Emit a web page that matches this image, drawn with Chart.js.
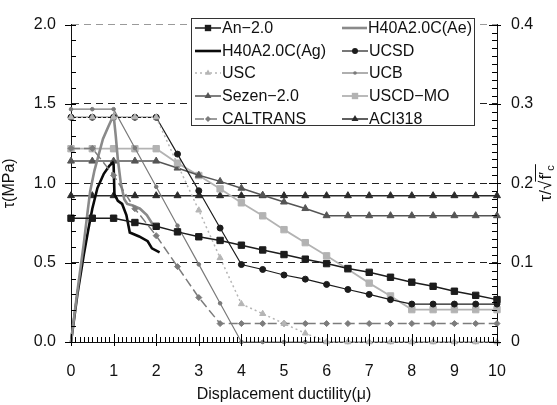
<!DOCTYPE html>
<html>
<head>
<meta charset="utf-8">
<script src="https://cdn.jsdelivr.net/npm/chart.js@4.4.1/dist/chart.umd.min.js"></script>
<style>
  html, body { margin: 0; padding: 0; background: #fff; }
  #wrap { position: relative; width: 557px; height: 405px; }
  #legend {
    position: absolute; left: 191px; top: 18px; width: 282px; height: 106px;
    border: 1px solid #333; background: #fff; color: #111;
    font: 16px "Liberation Sans", Arial, sans-serif;
  }
  #legend .grid { display: grid; grid-template-columns: 147px 133px; grid-auto-rows: 22.6px; margin-top: -2px; }
  #legend .item { display: flex; align-items: center; white-space: nowrap; }
  #legend svg { margin-left: 3px; margin-right: 1px; }
</style>
</head>
<body>
<div id="wrap">
  <canvas id="chart" width="557" height="405"></canvas>
  <div id="legend"><div class="grid"></div></div>
</div>
<script>
// displacement ductility for the model curves
const mu = [0, 0.5, 1, 1.5, 2, 2.5, 3, 3.5, 4, 4.5, 5, 5.5, 6, 6.5, 7, 7.5, 8, 8.5, 9, 9.5, 10];

const an20     = [0.78, 0.78, 0.78, 0.753, 0.729, 0.694, 0.663, 0.64, 0.61, 0.58, 0.551, 0.522, 0.494, 0.463, 0.439, 0.408, 0.377, 0.351, 0.32, 0.294, 0.267];
const ucsd     = [1.416, 1.416, 1.416, 1.416, 1.416, 1.184, 0.953, 0.718, 0.488, 0.457, 0.422, 0.396, 0.363, 0.331, 0.30, 0.267, 0.239, 0.239, 0.239, 0.239, 0.239];
const usc      = [1.416, 1.416, 1.416, 1.416, 1.416, 1.12, 0.83, 0.53, 0.24, 0.178, 0.116, 0.055, 0, 0, 0, 0, 0, 0, 0, 0, 0];
const ucb      = [1.467, 1.467, 1.467, 1.222, 0.978, 0.733, 0.489, 0.244, 0, 0, 0, 0, 0, 0, 0, 0, 0, 0, 0, 0, 0];
const sezen20  = [1.14, 1.14, 1.14, 1.14, 1.14, 1.096, 1.051, 1.012, 0.969, 0.925, 0.882, 0.841, 0.796, 0.796, 0.796, 0.796, 0.796, 0.796, 0.796, 0.796, 0.796];
const uscdMo   = [1.218, 1.218, 1.218, 1.218, 1.218, 1.127, 1.049, 0.965, 0.877, 0.795, 0.708, 0.626, 0.543, 0.459, 0.371, 0.29, 0.204, 0.204, 0.204, 0.204, 0.204];
const caltrans = [1.22, 1.22, 1.05, 0.84, 0.67, 0.475, 0.28, 0.116, 0.116, 0.116, 0.116, 0.116, 0.116, 0.116, 0.116, 0.116, 0.116, 0.116, 0.116, 0.116, 0.116];
const aci318   = [0.922, 0.922, 0.922, 0.922, 0.922, 0.922, 0.922, 0.922, 0.922, 0.922, 0.922, 0.922, 0.922, 0.922, 0.922, 0.922, 0.922, 0.922, 0.922, 0.922, 0.922];

// test envelopes
const aeMu  = [0, 0.15, 0.3, 0.38, 0.45, 0.55, 0.65, 0.75, 0.88, 1.0, 1.05, 1.1, 1.17, 1.25, 1.32, 1.45, 1.62, 1.78, 1.92];
const aeTau = [0, 0.32, 0.62, 0.8, 0.95, 1.08, 1.18, 1.28, 1.36, 1.43, 1.3, 1.15, 1.0, 0.9, 0.87, 0.86, 0.84, 0.8, 0.74];
const agMu  = [0, 0.15, 0.3, 0.4, 0.5, 0.62, 0.77, 0.9, 0.98, 1.0, 1.02, 1.1, 1.2, 1.3, 1.38, 1.6, 1.8, 1.9, 2.08];
const agTau = [0, 0.3, 0.55, 0.7, 0.84, 0.97, 1.06, 1.11, 1.13, 1.12, 0.93, 0.89, 0.87, 0.8, 0.69, 0.665, 0.635, 0.59, 0.565];

const leftTicks  = ['0.0', '0.5', '1.0', '1.5', '2.0'];
const rightTicks = ['0', '0.1', '0.2', '0.3', '0.4'];

const pts = (xs, ys) => xs.map((x, i) => ({x: x, y: ys[i]}));

function series(label, data, color, width, style, radius, dash, order) {
  return {
    label: label, data: data, borderColor: color, backgroundColor: color,
    borderWidth: width, borderDash: dash || [], pointStyle: style || false,
    pointRadius: style ? radius : 0, pointBorderWidth: 1, pointBorderColor: color,
    pointBackgroundColor: color, showLine: true, fill: false, tension: 0,
    clip: 8, order: order || 0
  };
}

const datasets = [
  series('An\u22122.0', pts(mu, an20), '#1c1c1c', 1.5, 'rect', 4.5),
  series('H40A2.0C(Ae)', pts(aeMu, aeTau), '#8a8a8a', 2.6, false, 0),
  series('H40A2.0C(Ag)', pts(agMu, agTau), '#0a0a0a', 2.6, false, 0),
  series('UCSD', pts(mu, ucsd), '#1c1c1c', 1.2, 'circle', 3),
  series('USC', pts(mu, usc), '#b5b5b5', 1.5, 'triangle', 3.5, [2, 3], -1),
  series('UCB', pts(mu, ucb), '#7a7a7a', 1.2, 'circle', 1.8),
  series('Sezen\u22122.0', pts(mu, sezen20), '#555555', 1.5, 'triangle', 4),
  series('USCD\u2212MO', pts(mu, uscdMo), '#b3b3b3', 1.8, 'rect', 4.5),
  series('CALTRANS', pts(mu, caltrans), '#7c7c7c', 1.5, 'rectRot', 3, [9, 4], -1),
  series('ACI318', pts(mu, aci318), '#2a2a2a', 1.5, 'triangle', 4)
];

// minor and major tick marks, placed by the scales
function drawAxisTicks(chart) {
  const ctx = chart.ctx;
  const a = chart.chartArea;
  const sx = chart.scales.x, sy = chart.scales.y, sy2 = chart.scales.y2;
  ctx.save();
  ctx.fillStyle = '#000';
  for (let i = 0; i <= 100; i++) {
    const px = Math.round(sx.getPixelForValue(i / 10));
    const major = i % 10 === 0;
    const up = major ? 8 : 5, down = major ? 4 : 0;
    ctx.fillRect(px, Math.round(a.bottom) - up, 1, up + down);
  }
  for (let i = 0; i <= 20; i++) {
    const py = Math.round(sy.getPixelForValue(i / 10));
    const major = i % 5 === 0;
    const out = major ? 6 : 0;
    ctx.fillRect(Math.round(a.left) - out, py, out + 5, 1);
  }
  for (let i = 0; i <= 40; i++) {
    const py = Math.round(sy2.getPixelForValue(i / 100));
    const major = i % 10 === 0;
    const inn = major ? 8 : 5, out = major ? 4 : 0;
    ctx.fillRect(Math.round(a.right) - inn, py, inn + out, 1);
  }
  ctx.restore();
}

// right axis title, read bottom to top like the left one
function drawRightTitle(chart) {
  const ctx = chart.ctx;
  const a = chart.chartArea;
  const big = '17px "Liberation Sans", Arial, sans-serif';
  const small = '11px "Liberation Sans", Arial, sans-serif';
  ctx.save();
  ctx.translate(chart.scales.y2.right - 11, (a.top + a.bottom) / 2);
  ctx.rotate(-Math.PI / 2);
  ctx.fillStyle = '#111';
  ctx.textBaseline = 'middle';
  ctx.textAlign = 'left';
  ctx.font = big;
  const w1 = ctx.measureText('\u03c4/\u221a').width;
  const w2 = ctx.measureText('f\u2032').width;
  ctx.font = small;
  const w3 = ctx.measureText('c').width;
  const x0 = -(w1 + w2 + w3 + 2) / 2;
  ctx.font = big;
  ctx.fillText('\u03c4/\u221a', x0, 0);
  ctx.fillText('f\u2032', x0 + w1 + 1, 0);
  ctx.font = small;
  ctx.fillText('c', x0 + w1 + w2 + 2, 5);
  ctx.fillRect(x0 + w1 - 1, -11, w2 + w3 + 4, 1);
  ctx.restore();
}

const extras = {
  id: 'extras',
  afterDraw(chart) {
    drawAxisTicks(chart);
    drawRightTitle(chart);
  }
};

Chart.defaults.font.family = '"Liberation Sans", Arial, sans-serif';
Chart.defaults.font.size = 16;
Chart.defaults.color = '#111';

new Chart(document.getElementById('chart'), {
  type: 'scatter',
  data: {datasets: datasets},
  options: {
    responsive: false,
    animation: false,
    devicePixelRatio: 1,
    layout: {padding: {top: 16, right: 0, bottom: 0, left: 0}},
    plugins: {legend: {display: false}, tooltip: {enabled: false}},
    scales: {
      x: {
        type: 'linear', min: 0, max: 10,
        ticks: {stepSize: 1, padding: 20, maxRotation: 0},
        grid: {color: 'transparent', drawTicks: false},
        border: {display: true, color: '#111', width: 1},
        title: {display: true, text: 'Displacement ductility(\u03bc)', padding: {top: 0, bottom: 1}},
        afterFit(s) { s.height = 63; }
      },
      y: {
        position: 'left', min: 0, max: 2,
        ticks: {stepSize: 0.5, padding: 15, callback: (v, i) => leftTicks[i]},
        grid: {
          drawTicks: false, lineWidth: 1,
          color: c => c.tick.value === 0 ? 'transparent' : (c.tick.value === 2 ? '#9a9a9a' : '#222')
        },
        border: {display: true, color: '#111', width: 1, dash: [7, 5]},
        title: {display: true, text: '\u03c4(MPa)', padding: {top: 0, bottom: 0}},
        afterFit(s) { s.width = 71; }
      },
      y2: {
        position: 'right', min: 0, max: 0.4,
        ticks: {stepSize: 0.1, padding: 14, callback: (v, i) => rightTicks[i]},
        grid: {drawOnChartArea: false, drawTicks: false},
        border: {display: true, color: '#111', width: 1},
        afterFit(s) { s.width = 60; }
      }
    }
  },
  plugins: [extras]
});

// two-column legend with the same line and marker styles
function sample(d) {
  const c = d.borderColor;
  let s = '<svg width="26" height="12"><line x1="0" y1="6" x2="26" y2="6" stroke="' + c +
    '" stroke-width="' + d.borderWidth + '"' +
    (d.borderDash.length ? ' stroke-dasharray="' + d.borderDash.join(',') + '"' : '') + '/>';
  const r = d.pointRadius;
  if (d.pointStyle === 'rect') {
    const h = r * Math.SQRT1_2;
    s += '<rect x="' + (13 - h) + '" y="' + (6 - h) + '" width="' + 2 * h + '" height="' + 2 * h + '" fill="' + c + '"/>';
  } else if (d.pointStyle === 'circle') {
    s += '<circle cx="13" cy="6" r="' + r + '" fill="' + c + '"/>';
  } else if (d.pointStyle === 'triangle') {
    s += '<polygon points="13,' + (6 - r) + ' ' + (13 - r * 0.87) + ',' + (6 + r * 0.5) + ' ' + (13 + r * 0.87) + ',' + (6 + r * 0.5) + '" fill="' + c + '"/>';
  } else if (d.pointStyle === 'rectRot') {
    s += '<polygon points="13,' + (6 - r) + ' ' + (13 + r) + ',6 13,' + (6 + r) + ' ' + (13 - r) + ',6" fill="' + c + '"/>';
  }
  return s + '</svg>';
}
const grid = document.querySelector('#legend .grid');
datasets.forEach(d => {
  const item = document.createElement('div');
  item.className = 'item';
  item.innerHTML = sample(d) + '<span>' + d.label + '</span>';
  grid.appendChild(item);
});
</script>
</body>
</html>
